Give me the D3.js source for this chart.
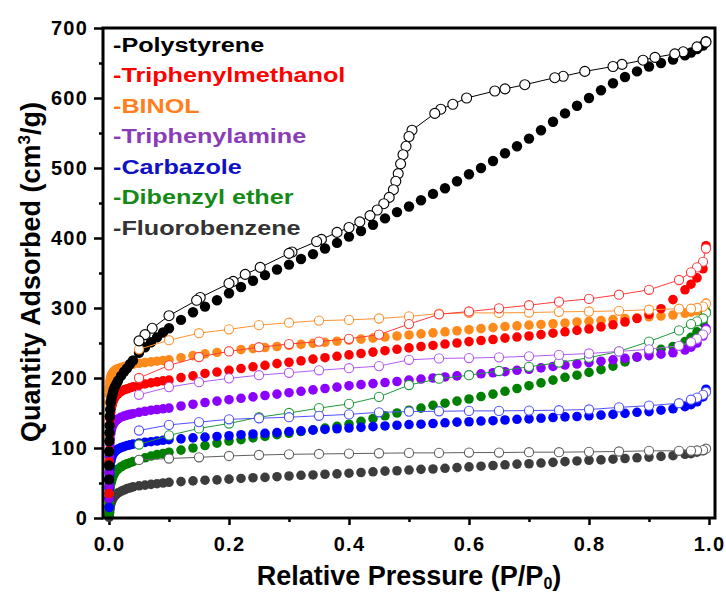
<!DOCTYPE html>
<html>
<head>
<meta charset="UTF-8">
<title>isotherms</title>
<style type="text/css">
	body { margin: 0; background: #fff; }
	text { font-family: "Liberation Sans", Arial, sans-serif; font-weight: bold; }
	.axis path { display: none; }
	.axis line { stroke: #000; stroke-width: 2.5px; }
	.axis text { font-size: 20px; fill: #000; letter-spacing: 1.2px; }
	.title { font-size: 27px; fill: #000; }
	.legend text { font-size: 21px; }
</style>
<script type="text/javascript" src="https://cdn.jsdelivr.net/npm/d3@7"></script>
</head>
<body>
<div id="div_main"></div>
<script type="text/javascript">

	// shared pressure grids (P/P0)
	var adsP = [
		0.0001, 0.0002, 0.0004, 0.0006, 0.0008, 0.001, 0.0015, 0.002, 0.003, 0.004, 0.005, 0.0065, 0.008, 0.01, 0.0125, 0.015, 0.02, 0.025, 0.03, 0.035, 0.04, 0.05, 0.06, 0.07, 0.08, 0.09, 0.1,
		0.12, 0.14, 0.16, 0.18, 0.2, 0.22, 0.24, 0.26, 0.28, 0.3, 0.32, 0.34, 0.36, 0.38, 0.4, 0.42, 0.44, 0.46, 0.48, 0.5, 0.52, 0.54, 0.56, 0.58, 0.6, 0.62, 0.64, 0.66, 0.68, 0.7, 0.72, 0.74, 0.76, 0.78, 0.8, 0.82, 0.84, 0.86, 0.88, 0.9, 0.92, 0.94, 0.96,
		0.97, 0.98, 0.99, 0.995];
	var desP = [0.995, 0.99, 0.98, 0.97, 0.95, 0.9, 0.85, 0.8, 0.75, 0.7, 0.65, 0.6, 0.55, 0.5, 0.45, 0.4, 0.35, 0.3, 0.25, 0.2, 0.15, 0.1, 0.05];
	var psDesP = [0.995, 0.98, 0.957, 0.943, 0.91, 0.89, 0.855, 0.84, 0.793, 0.757, 0.743, 0.693, 0.66, 0.643, 0.596, 0.573, 0.553, 0.543, 0.505, 0.5,
		0.495, 0.49, 0.486, 0.482, 0.478, 0.474, 0.467, 0.458, 0.447, 0.435, 0.418, 0.4, 0.38, 0.354, 0.346, 0.305, 0.3, 0.252, 0.227, 0.207,
		0.2, 0.152, 0.146, 0.1, 0.072, 0.06, 0.05];

	// quantity adsorbed (cm3/g), adsorption branch on adsP
	var polystyreneAds = [
		55, 75, 95, 110, 122, 132, 145, 155, 165, 170, 174, 179, 184, 188, 192, 196, 203, 209, 214, 220, 225, 236, 244, 251, 258, 265, 271,
		283, 294, 302, 311, 321, 330, 339, 347, 355, 362, 370, 377, 385, 393, 402, 410, 419, 428, 437, 445, 454, 463, 471, 481, 491, 500, 510, 521, 531, 542, 554, 566, 578, 589, 600, 611, 621, 630, 638, 645, 650, 655, 661,
		665, 670, 675, 681];
	var triphenylmethanolAds = [
		35, 55, 80, 97, 110, 120, 133, 141, 151, 157, 161, 166, 169.5, 172.5, 175.5, 177.5, 180.5, 183, 184.5, 186, 187.5, 189.5, 191.5, 193, 194.5, 196, 197,
		200.5, 203, 206.5, 208.5, 211, 213.5, 216, 218, 220.5, 222.5, 224.5, 227, 229, 231, 233, 235, 237, 239, 241, 243, 245, 246.5, 248.5, 250, 252, 253.5, 255, 257, 258.5, 260, 262, 264, 266, 268, 270, 273, 276, 280, 285, 291, 299, 312, 326,
		334, 343, 356, 389];
	var binolAds = [
		120, 145, 165, 176, 183, 188, 194, 197.5, 201.5, 204, 206, 208, 209.5, 211, 212.5, 213.5, 215, 216.5, 217.5, 218.5, 219.5, 221, 222, 223, 224, 225, 226,
		229, 232, 234.5, 236.5, 238.5, 240.5, 242, 243.5, 245, 246.5, 248, 249.5, 251, 252.5, 254, 255.5, 257, 258.5, 260, 261.5, 263, 264.5, 266, 267.5, 269, 270.5, 272, 273.5, 274.5, 275.5, 276.5, 277.5, 278.5, 280, 281, 282, 283.5, 285, 286, 287.5, 288.5, 290, 292.5,
		294, 296, 299, 307];
	var triphenylamineAds = [
		28, 45, 65, 78, 88, 95, 106, 113, 121, 126, 129.5, 133, 135.5, 138, 140, 141.5, 144, 145.5, 147, 148, 149, 151, 152.5, 154, 155, 156, 157,
		160, 162.5, 165, 167, 169, 171, 173, 175, 177, 179, 181, 183, 185, 187, 189, 190.5, 192, 193.5, 195, 197, 198.5, 200, 201.5, 203, 204.5, 206, 207.5, 209, 211, 212.5, 214.5, 216.5, 218.5, 220, 222, 224, 226, 228, 230, 232, 234, 236, 240,
		244, 250, 260, 271];
	var carbazoleAds = [
		15, 28, 42, 52, 58, 63, 70, 75, 81, 85, 88, 91, 93, 95, 97, 98.5, 100.5, 102, 103.5, 104.5, 105.5, 107, 108, 109, 110, 111, 112,
		113, 114.5, 115.5, 116.5, 117.5, 119, 120, 121, 122, 123.5, 124.5, 125.5, 126.5, 127.5, 128.5, 129.5, 130.5, 131.5, 132.5, 133.5, 134, 135, 136, 137, 137.5, 138.5, 139, 140, 141, 141.5, 142.5, 143.5, 144.5, 145, 146, 147, 148, 149.5, 151, 152, 154, 156, 159,
		162, 166, 173, 184];
	var dibenzylEtherAds = [
		5, 10, 17, 23, 28, 32, 39, 44, 49, 52, 55, 59, 62, 65, 68, 70, 73, 75.5, 77.5, 79, 80.5, 83, 86, 88.5, 90.5, 92, 94,
		97, 100, 103.5, 107, 110, 112, 114.5, 116.5, 119, 121, 123.5, 126, 128.5, 131, 134, 138, 142, 146, 150, 154, 157, 161, 164, 167, 170, 173.5, 177, 181, 185, 189, 193, 197, 201, 204, 208, 212, 217, 223, 230, 237, 241, 245, 252,
		258, 266, 279, 295];
	var fluorobenzeneAds = [
		1, 2, 4, 6, 8, 10, 13, 16, 20, 23, 25, 28, 30, 32, 34, 36, 38, 40, 42, 43, 44.5, 46, 47, 48, 49, 50, 51,
		52, 53, 54, 54.5, 55.5, 56.5, 57.5, 58, 59, 60, 61, 61.5, 62.5, 63, 64, 65, 66, 67, 67.5, 68.5, 69.5, 70, 71, 72, 73, 74, 75, 76, 77, 77.5, 78.5, 79.5, 80.5, 81.5, 82.5, 83, 84, 85, 86, 87, 88, 89, 91,
		92, 94, 96, 99];

	// desorption branch (polystyrene on psDesP, the rest on desP)
	var polystyreneDes = [680, 673, 666, 663, 658, 654, 648, 645, 638, 631, 629, 619, 613, 610, 600, 591, 584, 578, 554, 545,
		531, 519, 506, 492, 481, 469, 458, 449, 440, 432, 423, 415, 408, 398, 395, 380, 378, 358, 348, 338,
		335, 315, 311, 289, 271, 262, 253];
	var triphenylmethanolDes = [385, 366, 358, 351, 340, 326, 319, 313, 309, 304, 299.5, 295, 291, 277, 262, 256, 252, 248.5, 244, 238, 230, 218, 200];
	var binolDes = [306, 302, 300, 299, 299, 297.5, 296, 295, 294.5, 293.5, 293, 293, 292, 288, 285, 283, 282, 279, 275.5, 269.5, 264, 254, 241];
	var triphenylamineDes = [268, 262, 256, 251, 246, 241, 238, 235, 233, 231, 229.5, 228.5, 228, 226, 217, 214, 211, 207.5, 204, 199.5, 194, 187, 176];
	var carbazoleDes = [180, 176, 172, 169, 164, 160.5, 158, 155, 154, 153.5, 153, 153, 152.5, 152, 151, 148, 146, 144, 142.5, 141, 137, 133, 125];
	var dibenzylEtherDes = [293, 285, 281, 277, 268, 252, 238, 229, 222, 216, 210, 204, 199, 190, 173, 163, 157, 150, 144, 135, 128, 118, 105];
	var fluorobenzeneDes = [99, 97, 96.5, 96, 96, 96, 95, 94.5, 94, 94, 93.5, 93.5, 93, 93, 92.5, 92, 91.5, 91, 90, 88.6, 86.7, 85, 83];

	var names = ["-Polystyrene", "-Triphenylmethanol", "-BINOL", "-Triphenylamine", "-Carbazole", "-Dibenzyl ether", "-Fluorobenzene"];
	var xTicks = [0, 0.2, 0.4, 0.6, 0.8, 1.0];
	var xMinor = [0.1, 0.3, 0.5, 0.7, 0.9];
	var yTicks = [0, 100, 200, 300, 400, 500, 600, 700];
	var yMinor = [50, 150, 250, 350, 450, 550, 650];

	function draw(id_svg_main, svg_w, svg_h) {

		var series = [
			{ name: names[0], ads: polystyreneAds, desX: psDesP, des: polystyreneDes, fill: "#000000", open: "#000000", text: "#000000", r: 5.2 },
			{ name: names[1], ads: triphenylmethanolAds, desX: desP, des: triphenylmethanolDes, fill: "#ff0000", open: "#ff3b3b", text: "#ff0000", r: 4.8 },
			{ name: names[2], ads: binolAds, desX: desP, des: binolDes, fill: "#ff8a1c", open: "#ff9330", text: "#ff7f1e", r: 4.8 },
			{ name: names[3], ads: triphenylamineAds, desX: desP, des: triphenylamineDes, fill: "#8c00ff", open: "#b35cf5", text: "#8a3cb8", r: 4.8 },
			{ name: names[4], ads: carbazoleAds, desX: desP, des: carbazoleDes, fill: "#0000ff", open: "#5050ff", text: "#1010c4", r: 4.8 },
			{ name: names[5], ads: dibenzylEtherAds, desX: desP, des: dibenzylEtherDes, fill: "#008000", open: "#1f9a3a", text: "#168a16", r: 4.8 },
			{ name: names[6], ads: fluorobenzeneAds, desX: desP, des: fluorobenzeneDes, fill: "#3c3c3c", open: "#606060", text: "#333333", r: 4.8 }
		];

		var scaleX = d3.scaleLinear().domain([-0.01, 1.01]).range([103, 715]);
		var scaleY = d3.scaleLinear().domain([0, 700]).range([518, 28]);

		var svg = d3.select(id_svg_main)
			.append("svg")
				.attr("width", svg_w)
				.attr("height", svg_h);

		// axes, ticks pointing out
		svg.append("g").attr("class", "axis")
			.attr("transform", "translate(0,518)")
			.call(d3.axisBottom(scaleX).tickValues(xTicks).tickSize(7).tickPadding(12).tickFormat(d3.format(".1f")));
		svg.append("g").attr("class", "axis")
			.attr("transform", "translate(0,518)")
			.call(d3.axisBottom(scaleX).tickValues(xMinor).tickSize(4).tickFormat(""));
		svg.append("g").attr("class", "axis")
			.attr("transform", "translate(103,0)")
			.call(d3.axisLeft(scaleY).tickValues(yTicks).tickSize(9).tickPadding(6));
		svg.append("g").attr("class", "axis")
			.attr("transform", "translate(103,0)")
			.call(d3.axisLeft(scaleY).tickValues(yMinor).tickSize(4).tickFormat(""));

		// drawn from the last legend entry up, filled first then open
		var order = series.slice().reverse();

		var plot = svg.append("g");
		order.forEach(function (s) {
			plot.append("g").selectAll("circle")
				.data(s.ads)
				.enter()
				.append("circle")
					.attr("cx", function (d, i) { return scaleX(adsP[i]); })
					.attr("cy", function (d) { return scaleY(d); })
					.attr("r", s.r)
					.attr("fill", s.fill);
		});

		var line = d3.line()
			.x(function (d) { return scaleX(d[0]); })
			.y(function (d) { return scaleY(d[1]); });

		order.forEach(function (s) {
			var pts = s.des.map(function (d, i) { return [s.desX[i], d]; });
			plot.append("path")
				.attr("d", line(pts))
				.attr("fill", "none")
				.attr("stroke", s.open)
				.attr("stroke-width", 1);
			plot.append("g").selectAll("circle")
				.data(pts)
				.enter()
				.append("circle")
					.attr("cx", function (d) { return scaleX(d[0]); })
					.attr("cy", function (d) { return scaleY(d[1]); })
					.attr("r", s.r - 0.2)
					.attr("fill", "#fff")
					.attr("stroke", s.open)
					.attr("stroke-width", 1.1);
		});

		// frame
		svg.append("rect")
			.attr("x", 103).attr("y", 28)
			.attr("width", 612).attr("height", 490)
			.attr("fill", "none")
			.attr("stroke", "#000")
			.attr("stroke-width", 3);

		// legend
		var legend = svg.append("g")
			.attr("class", "legend")
			.attr("transform", "translate(113,52) scale(1.2,1)");
		legend.selectAll("text")
			.data(series)
			.enter()
			.append("text")
				.attr("x", 0)
				.attr("y", function (d, i) { return i * 30.5; })
				.attr("fill", function (d) { return d.text; })
				.text(function (d) { return d.name; });

		// axis titles
		var xt = svg.append("text").attr("class", "title")
			.attr("x", 409).attr("y", 585)
			.attr("text-anchor", "middle")
			.text("Relative Pressure (P/P");
		xt.append("tspan").attr("font-size", "16px").attr("dy", 4).text("0");
		xt.append("tspan").attr("dy", -4).text(")");

		var yt = svg.append("text").attr("class", "title")
			.attr("transform", "translate(40,272) rotate(-90)")
			.attr("text-anchor", "middle")
			.text("Quantity Adsorbed (cm");
		yt.append("tspan").attr("font-size", "17px").attr("dy", -10).text("3");
		yt.append("tspan").attr("dy", 10).text("/g)");
	}

	draw("#div_main", 726, 594);

</script>
</body>
</html>
